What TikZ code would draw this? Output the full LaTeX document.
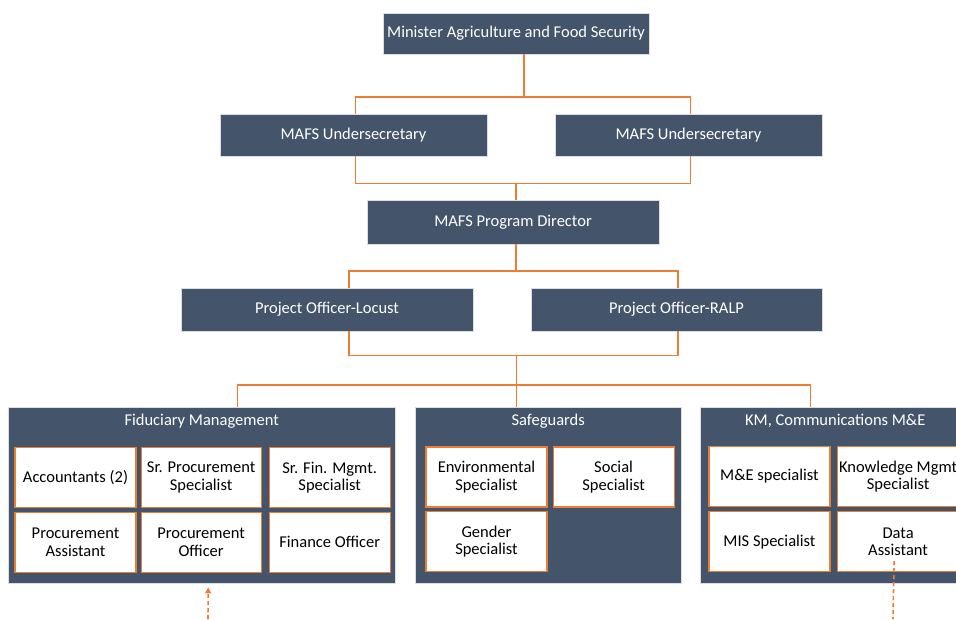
\documentclass[tikz,border=0pt]{standalone}
\usepackage{fontspec}
\setmainfont{Carlito}
\usetikzlibrary{positioning,arrows.meta}
\definecolor{slate}{HTML}{44546A}
\definecolor{accent}{HTML}{ED7D31}
\tikzset{
  post/.style={draw=white!80!slate, fill=slate, text=white, inner sep=0pt,
    font=\fontsize{16.5}{17.5}\selectfont},
  unit/.style={draw=white!80!slate, fill=slate, anchor=north west, inner sep=0pt},
  unit title/.style={text=white, font=\fontsize{16.5}{17.5}\selectfont},
  role/.style={draw=accent, line width=1.1pt, fill=white, align=center, inner sep=0pt,
    minimum height=60pt, font=\fontsize{16.5}{17.5}\selectfont},
  link/.style={accent, line width=1.4pt},
  feed/.style={accent, line width=1.6pt, dash pattern=on 4pt off 3pt}
}

\begin{document}
\begin{tikzpicture}[x=1pt, y=-1pt]
  \useasboundingbox (0,0) rectangle (956,619);
  \clip (0,0) rectangle (956,619);

  \node (top) [post, minimum width=266pt, minimum height=41pt] at (516,33.5) {Minister Agriculture and Food Security};
  \node (us1) [post, minimum width=267pt, minimum height=42pt] at (353.5,135) {MAFS Undersecretary};
  \node (us2) [post, minimum width=267pt, minimum height=42pt] at (688.5,135) {MAFS Undersecretary};
  \node (pd) [post, minimum width=292pt, minimum height=44pt] at (513,222) {MAFS Program Director};
  \node (pol) [post, minimum width=292pt, minimum height=43pt] at (327,309.5) {Project Officer-Locust};
  \node (por) [post, minimum width=291pt, minimum height=43pt] at (676.5,309.5) {Project Officer-RALP};

  \node (fid) [unit, minimum width=387pt, minimum height=176pt] at (8,407) {};
  \node (saf) [unit, minimum width=266pt, minimum height=176pt] at (415,407) {};
  \node (kme) [unit, minimum width=270pt, minimum height=176pt] at (700,407) {};
  \node (fidT) [unit title, below=4pt of fid.north] {Fiduciary Management};
  \node (safT) [unit title, below=4pt of saf.north] {Safeguards};
  \node (kmeT) [unit title, below=4pt of kme.north] {KM, Communications M\&E};

  \node (acc) [role, minimum width=121pt] at (75.5,477.5) {Accountants (2)};
  \node (spr) [role, minimum width=120pt, right=4pt of acc] {Sr. Procurement\\Specialist};
  \node (sfm) [role, minimum width=121pt, right=7pt of spr] {Sr. Fin. Mgmt.\\Specialist};
  \node (pas) [role, minimum width=121pt, below=3.5pt of acc] {Procurement\\Assistant};
  \node (pof) [role, minimum width=120pt, below=3.5pt of spr] {Procurement\\Officer};
  \node (fof) [role, minimum width=121pt, below=3.5pt of sfm] {Finance Officer};

  \node (env) [role, minimum width=121pt] at (486.5,477) {Environmental\\Specialist};
  \node (soc) [role, minimum width=121pt, right=5pt of env] {Social\\Specialist};
  \node (gen) [role, minimum width=121pt, below=3.5pt of env] {Gender\\Specialist};

  \node (mes) [role, minimum width=121pt] at (769.5,476.5) {M\&E specialist};
  \node (kms) [role, minimum width=122pt, right=6pt of mes] {Knowledge Mgmt\\Specialist};
  \node (mis) [role, minimum width=121pt, below=4pt of mes] {MIS Specialist};
  \node (das) [role, minimum width=122pt, below=4pt of kms] {Data\\Assistant};

  \draw[link] ([xshift=8pt]top.south) -- ++(0,43);
  \draw[link] ([xshift=2pt]us1.north) -- ++(0,-17) -| ([xshift=2pt]us2.north);
  \draw[link] ([xshift=2pt]us1.south) -- ++(0,27) -| ([xshift=2pt]us2.south);
  \draw[link] ([xshift=3pt]pd.north) -- ++(0,-17);
  \draw[link] ([xshift=3pt]pd.south) -- ++(0,27);
  \draw[link] ([xshift=22pt]pol.north) -- ++(0,-17) -| ([xshift=1.5pt]por.north);
  \draw[link] ([xshift=22pt]pol.south) -- ++(0,24) -| ([xshift=1.5pt]por.south);
  \draw[link] ([xshift=-32pt]saf.north) -- ++(0,-52);
  \draw[link] ([xshift=35.5pt]fid.north) -- ++(0,-22) -| ([xshift=-25pt]kme.north);

  \coordinate (fidIn) at (208,619);
  \coordinate (dasOut) at (893,619);
  \draw[feed, -{Triangle[width=6pt,length=6pt]}] (fidIn) -- ([xshift=6.5pt,yshift=-4pt]fid.south);
  \draw[feed] ([xshift=-4pt,yshift=11pt]das.south) -- (dasOut);
\end{tikzpicture}
\end{document}
